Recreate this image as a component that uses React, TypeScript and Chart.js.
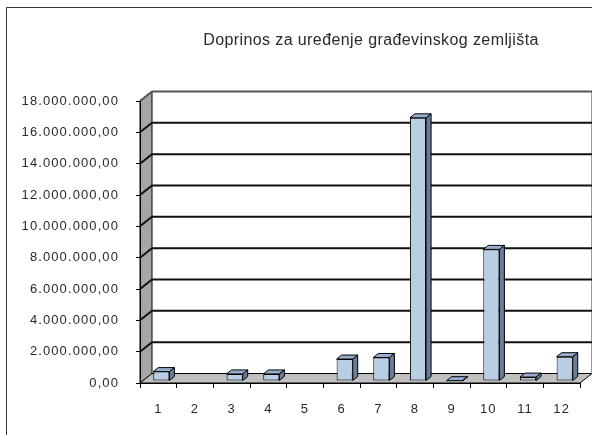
import React, { useEffect, useRef } from 'react';
import { Chart, registerables } from 'chart.js';

Chart.register(...registerables);

const TITLE = 'Doprinos za uređenje građevinskog zemljišta';
const categories = ['1', '2', '3', '4', '5', '6', '7', '8', '9', '10', '11', '12'];
const values = [600000, 0, 450000, 450000, 0, 1400000, 1500000, 16800000, 20000, 8400000, 250000, 1550000];
const Y_MIN = 0;
const Y_MAX = 18000000;
const Y_STEP = 2000000;

const FONT = '"Liberation Sans", Arial, sans-serif';
const TEXT_COLOR = '#2a2a2a';

function fmt(v: number): string {
  const s = Math.round(v).toString();
  return s.replace(/\B(?=(\d{3})+(?!\d))/g, '.') + ',00';
}

// depth of the 3D walls and bars
const DX = 12;
const DY = -9.5;
const BX = 3;
const BY = -2;
const SD = 5;
const ST = 4;

const excel3d = {
  id: 'excel3d',
  beforeDraw(chart: any) {
    const ctx = chart.ctx as CanvasRenderingContext2D;
    const w = chart.width;
    const h = chart.height;
    ctx.save();
    ctx.fillStyle = '#fff';
    ctx.fillRect(0, 0, w, h);
    // outer frame
    ctx.strokeStyle = '#333';
    ctx.lineWidth = 1;
    ctx.beginPath();
    ctx.moveTo(6.5, h);
    ctx.lineTo(6.5, 7.5);
    ctx.lineTo(w, 7.5);
    ctx.stroke();
    // title
    ctx.font = '16px ' + FONT;
    (ctx as any).letterSpacing = '0.4px';
    ctx.fillStyle = TEXT_COLOR;
    ctx.textAlign = 'center';
    ctx.textBaseline = 'alphabetic';
    ctx.fillText(TITLE, 371, 45);
    ctx.restore();

    const { left, right, top, bottom } = chart.chartArea;
    const ys = chart.scales.y;
    ctx.save();
    ctx.lineJoin = 'miter';
    // side wall
    ctx.beginPath();
    ctx.moveTo(left, top);
    ctx.lineTo(left + DX, top + DY);
    ctx.lineTo(left + DX, bottom + DY);
    ctx.lineTo(left, bottom);
    ctx.closePath();
    ctx.fillStyle = '#a6a6a6';
    ctx.fill();
    ctx.strokeStyle = '#000';
    ctx.lineWidth = 1;
    ctx.stroke();
    // floor
    ctx.beginPath();
    ctx.moveTo(left, bottom);
    ctx.lineTo(left + DX, bottom + DY);
    ctx.lineTo(right + DX, bottom + DY);
    ctx.lineTo(right, bottom);
    ctx.closePath();
    ctx.fillStyle = '#c0c0c0';
    ctx.fill();
    ctx.stroke();
    // back wall right edge
    ctx.strokeStyle = '#999';
    ctx.beginPath();
    ctx.moveTo(right + DX - 0.5, top + DY);
    ctx.lineTo(right + DX - 0.5, bottom + DY);
    ctx.stroke();
    // gridlines
    for (let v = Y_MIN + Y_STEP; v <= Y_MAX; v += Y_STEP) {
      const yp = ys.getPixelForValue(v);
      ctx.beginPath();
      ctx.moveTo(left, yp);
      ctx.lineTo(left + DX, yp + DY);
      ctx.lineTo(right + DX, yp + DY);
      ctx.strokeStyle = v === Y_MAX ? '#555' : '#111';
      ctx.lineWidth = 2;
      ctx.stroke();
    }
    ctx.restore();
    // spacing for tick labels
    (ctx as any).letterSpacing = '1.1px';
  },
  beforeDatasetsDraw(chart: any) {
    const ctx = chart.ctx as CanvasRenderingContext2D;
    ctx.save();
    ctx.translate(BX, BY);
  },
  afterDatasetsDraw(chart: any) {
    const ctx = chart.ctx as CanvasRenderingContext2D;
    const meta = chart.getDatasetMeta(0);
    ctx.lineWidth = 1;
    ctx.strokeStyle = '#000';
    ctx.lineJoin = 'miter';
    meta.data.forEach((el: any, i: number) => {
      if (!values[i]) return;
      const { x, y, base, width } = el.getProps(['x', 'y', 'base', 'width'], true);
      const x1 = x - width / 2;
      const x2 = x + width / 2;
      ctx.beginPath();
      ctx.moveTo(x1, y);
      ctx.lineTo(x1 + SD, y - ST);
      ctx.lineTo(x2 + SD, y - ST);
      ctx.lineTo(x2, y);
      ctx.closePath();
      ctx.fillStyle = '#98aecf';
      ctx.fill();
      ctx.stroke();
      ctx.beginPath();
      ctx.moveTo(x2, y);
      ctx.lineTo(x2 + SD, y - ST);
      ctx.lineTo(x2 + SD, base - ST);
      ctx.lineTo(x2, base);
      ctx.closePath();
      ctx.fillStyle = '#6b7c99';
      ctx.fill();
      ctx.stroke();
    });
    ctx.restore();
  },
};

export default function App() {
  const ref = useRef<HTMLCanvasElement>(null);
  useEffect(() => {
    if (!ref.current) return;
    const chart = new Chart(ref.current, {
      type: 'bar',
      data: {
        labels: categories,
        datasets: [
          {
            data: values,
            backgroundColor: '#b9cde5',
            borderColor: '#000',
            borderWidth: 1,
            borderSkipped: false,
            categoryPercentage: 1,
            barPercentage: 0.44,
          },
        ],
      },
      options: {
        animation: false,
        responsive: false,
        maintainAspectRatio: false,
        devicePixelRatio: 1,
        layout: { padding: { top: 101, right: 12, left: 0, bottom: 0 } },
        plugins: {
          legend: { display: false },
          title: { display: false },
          tooltip: { enabled: false },
        },
        scales: {
          x: {
            type: 'category',
            offset: true,
            grid: { display: true, drawOnChartArea: false, offset: true, tickLength: 5, color: '#000' },
            border: { display: true, color: '#000' },
            ticks: { color: TEXT_COLOR, font: { family: FONT, size: 13 }, padding: 14, maxRotation: 0, autoSkip: false },
            afterFit: (s: any) => {
              s.height = 52;
            },
          },
          y: {
            min: Y_MIN,
            max: Y_MAX,
            grid: { display: true, drawOnChartArea: false, tickLength: 4, color: '#000' },
            border: { display: true, color: '#000' },
            ticks: {
              stepSize: Y_STEP,
              color: TEXT_COLOR,
              font: { family: FONT, size: 13 },
              padding: 17,
              callback: (v: any) => fmt(Number(v)),
            },
            afterFit: (s: any) => {
              s.width = 140;
            },
          },
        },
      },
      plugins: [excel3d],
    });
    return () => chart.destroy();
  }, []);
  return (
    <div style={{ position: 'fixed', left: 0, top: 0, width: 592, height: 435, background: '#fff' }}>
      <canvas ref={ref} width={592} height={435} style={{ display: 'block', width: 592, height: 435 }} />
    </div>
  );
}
